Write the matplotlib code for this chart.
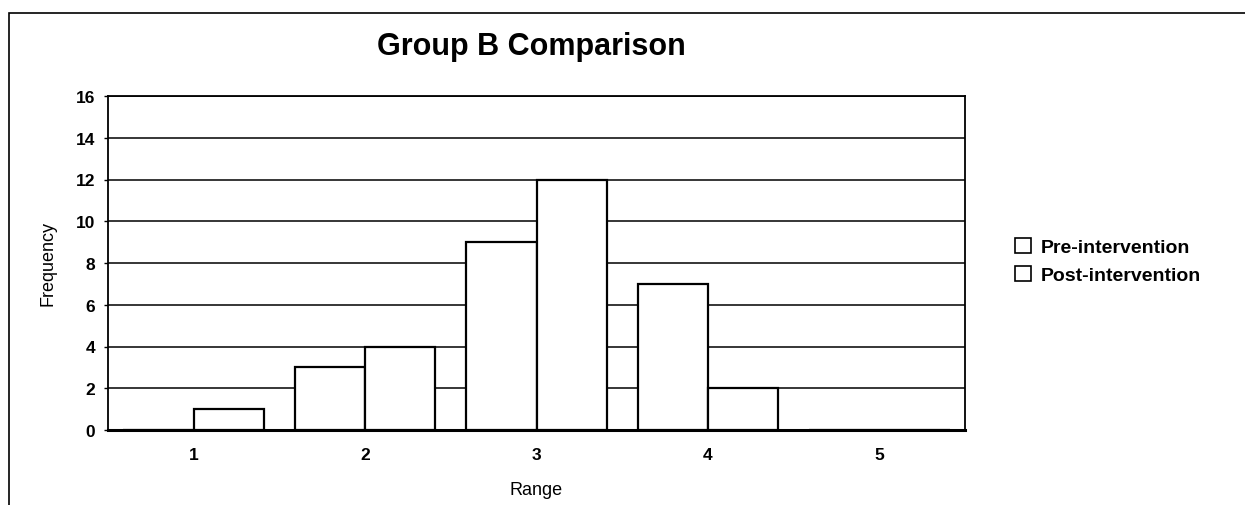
"""Group B comparison bar chart"""

import matplotlib.pyplot as plt
import numpy as np
from matplotlib.patches import Rectangle, Patch

plt.rcParams['font.family'] = ['Liberation Sans', 'DejaVu Sans']

# Data
categories = ['1', '2', '3', '4', '5']
pre_intervention = [0, 3, 9, 7, 0]
post_intervention = [1, 4, 12, 2, 0]
y_ticks = [0, 2, 4, 6, 8, 10, 12, 14, 16]

W, H = 1245, 506
fig = plt.figure(figsize=(W / 100, H / 100), dpi=100)
ax = fig.add_axes([108 / W, 1 - 431 / H, (965 - 108) / W, (431 - 97) / H])

# Outer chart frame (cropped at right/bottom)
fig.patches.append(Rectangle((9 / W, -0.2), 1.5, 1.2 - 14 / H,
                             transform=fig.transFigure, fill=False,
                             edgecolor='black', linewidth=1.2))

x = np.arange(1, len(categories) + 1)
width = 0.41

ax.bar(x - width / 2, pre_intervention, width, color='white',
       edgecolor='black', linewidth=1.6, zorder=3, label='Pre-intervention')
ax.bar(x + width / 2, post_intervention, width, color='white',
       edgecolor='black', linewidth=1.6, zorder=3, label='Post-intervention')

ax.set_xlim(0.5, 5.5)
ax.set_ylim(0, 16)
ax.set_yticks(y_ticks)
ax.set_xticks(x)
ax.set_xticklabels(categories)
ax.yaxis.grid(True, color='black', linewidth=1.1, zorder=0)
ax.set_axisbelow(True)

for side in ['left', 'top', 'right']:
    ax.spines[side].set_linewidth(1.3)
ax.spines['bottom'].set_linewidth(2.2)

ax.tick_params(axis='x', length=0, pad=12, labelsize=12.5)
ax.tick_params(axis='y', length=3, width=1, pad=6, labelsize=12.5)
for lbl in ax.get_xticklabels() + ax.get_yticklabels():
    lbl.set_fontweight('bold')

ax.set_xlabel('Range', fontsize=13, labelpad=14)
ax.set_ylabel('Frequency', fontsize=13, labelpad=14)

fig.text(531 / W, 1 - 47 / H, 'Group B Comparison', fontsize=22,
         fontweight='bold', ha='center', va='center')

legend_elements = [
    Patch(facecolor='white', edgecolor='black', linewidth=1.2, label='Pre-intervention'),
    Patch(facecolor='white', edgecolor='black', linewidth=1.2, label='Post-intervention'),
]
fig.legend(handles=legend_elements, loc='center left',
           bbox_to_anchor=(1015 / W, 1 - 262 / H), frameon=False,
           prop={'weight': 'bold', 'size': 14}, handlelength=0.8,
           handleheight=0.8, handletextpad=0.55, labelspacing=0.5,
           borderaxespad=0, borderpad=0)

fig.savefig('out.png', dpi=100)
plt.close(fig)
